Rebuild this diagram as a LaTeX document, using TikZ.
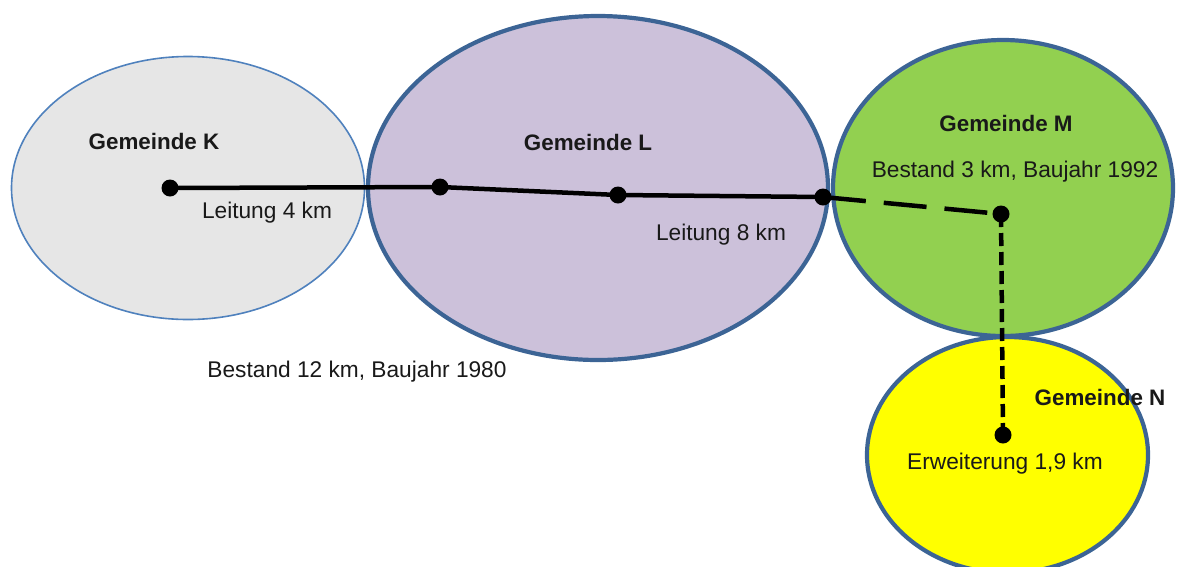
\documentclass[tikz,border=0pt]{standalone}
\usepackage{fontspec}
\setmainfont{Liberation Sans}
\usetikzlibrary{shapes.geometric}
\definecolor{kfill}{HTML}{E6E6E6}
\definecolor{kline}{HTML}{4F81BD}
\definecolor{lfill}{HTML}{CCC1DA}
\definecolor{mfill}{HTML}{92D050}
\definecolor{nfill}{HTML}{FFFF00}
\definecolor{rim}{HTML}{3C6495}
\tikzset{
  region/.style={ellipse, draw=rim, line width=4.2pt, inner sep=0pt},
  lbl/.style={anchor=base, inner sep=0pt, font=\fontsize{22.7}{26}\selectfont, text=black!90},
  blbl/.style={lbl, font=\fontsize{22.4}{26}\selectfont\bfseries},
  dot/.style={circle, fill=black, minimum size=17pt, inner sep=0pt},
  pipe/.style={line width=4.5pt, black},
  dashA/.style={pipe, dash pattern=on 43pt off 18pt},
  dashB/.style={pipe, dash pattern=on 13pt off 6pt},
}
\begin{document}
\begin{tikzpicture}[x=1pt,y=-1pt]
\useasboundingbox (0,0) rectangle (1180,566);
\node[region, fill=kfill, draw=kline, line width=1.6pt, minimum width=353pt, minimum height=263pt] (K) at (188,188) {};
\node[region, fill=lfill, minimum width=460pt, minimum height=344pt] (L) at (598,188) {};
\node[region, fill=mfill, minimum width=340pt, minimum height=296pt] (M) at (1003,188) {};
\node[region, fill=nfill, minimum width=281pt, minimum height=236pt] (N) at (1007.5,455) {};

\node[dot] (d1) at (170,188) {};
\node[dot] (d2) at (440,187) {};
\node[dot] (d3) at (618,195) {};
\node[dot] (d4) at (823,197) {};
\node[dot] (d5) at (1001,214) {};
\node[dot] (d6) at (1003,435) {};

\draw[pipe] (d1.center) -- (d2.center) -- (d3.center) -- (d4.center);
\draw[dashA] (d4.center) -- (d5.center);
\draw[dashB] (d5.center) -- (d6.center);

\node[blbl] (tK) at (154,149) {Gemeinde K};
\node[blbl] (tL) at (588,150) {Gemeinde L};
\node[blbl] (tM) at (1006,131) {Gemeinde M};
\node[blbl] (tN) at (1100,405) {Gemeinde N};
\node[lbl] (l4) at (267,218) {Leitung 4 km};
\node[lbl] (l8) at (721,240) {Leitung 8 km};
\node[lbl] (b3) at (1015,177) {Bestand 3 km, Baujahr 1992};
\node[lbl] (b12) at (357,377) {Bestand 12 km, Baujahr 1980};
\node[lbl] (e19) at (1005,469) {Erweiterung 1,9 km};
\end{tikzpicture}
\end{document}
